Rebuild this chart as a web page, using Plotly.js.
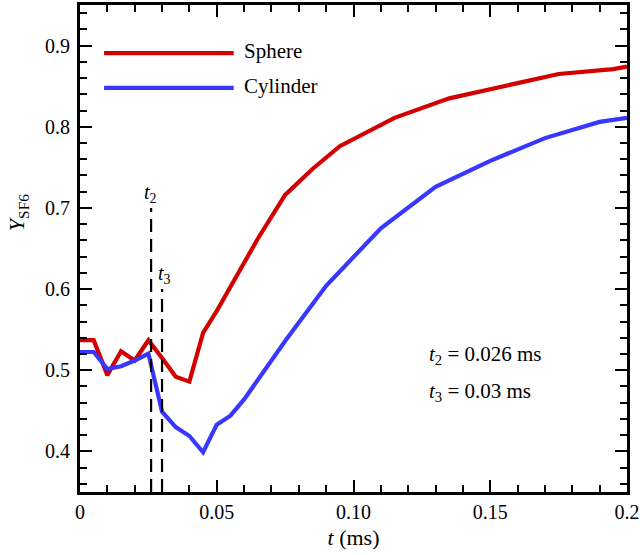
<!DOCTYPE html>
<html>
<head>
<meta charset="utf-8">
<script src="https://cdn.plot.ly/plotly-3.0.1.min.js"></script>
<style>html,body{margin:0;padding:0;background:#fff;}#chart{width:640px;height:555px;}</style>
</head>
<body>
<div id="chart"></div>
<script>
// Sphere series
const sphereT = [0, 0.005, 0.01, 0.015, 0.02, 0.025, 0.03, 0.035, 0.04, 0.045, 0.05, 0.055, 0.065, 0.075, 0.085, 0.095, 0.115, 0.135, 0.155, 0.175, 0.195, 0.2];
const sphereY = [0.537, 0.537, 0.494, 0.5235, 0.512, 0.537, 0.515, 0.492, 0.486, 0.546, 0.573, 0.603, 0.662, 0.716, 0.748, 0.776, 0.811, 0.835, 0.850, 0.865, 0.871, 0.874];
// Cylinder series
const cylT = [0, 0.005, 0.01, 0.015, 0.02, 0.025, 0.03, 0.035, 0.04, 0.045, 0.05, 0.055, 0.06, 0.075, 0.09, 0.11, 0.13, 0.15, 0.17, 0.19, 0.2];
const cylY = [0.5225, 0.5225, 0.5015, 0.505, 0.512, 0.5205, 0.449, 0.43, 0.419, 0.399, 0.433, 0.444, 0.464, 0.536, 0.604, 0.675, 0.726, 0.758, 0.786, 0.806, 0.811];
// Marked times
const t2 = 0.026, t2Top = 0.70;
const t3 = 0.03, t3Top = 0.60;
// Ticks
const xTickVals = [0, 0.05, 0.10, 0.15, 0.2];
const xTickText = ["0", "0.05", "0.10", "0.15", "0.2"];
const yTickVals = [0.4, 0.5, 0.6, 0.7, 0.8, 0.9];
const yTickText = ["0.4", "0.5", "0.6", "0.7", "0.8", "0.9"];
const seriesNames = ["Sphere", "Cylinder"];

const RED = "rgb(210,0,0)";
const BLUE = "rgb(55,55,255)";
const FONT = "Liberation Serif, Times New Roman, serif";

const traces = [
  {x: sphereT, y: sphereY, mode: "lines", name: seriesNames[0], line: {color: RED, width: 4.2}, showlegend: false},
  {x: cylT, y: cylY, mode: "lines", name: seriesNames[1], line: {color: BLUE, width: 4.2}, showlegend: false}
];

const axisCommon = {
  showgrid: false, zeroline: false, showline: true, linecolor: "#000", linewidth: 3,
  mirror: "allticks", ticks: "inside", ticklen: 12, tickwidth: 2, tickcolor: "#000",
  tickfont: {family: FONT, size: 20, color: "#000"},
  minor: {ticks: "inside", ticklen: 7, tickwidth: 2, tickcolor: "#000", showgrid: false}
};

const layout = {
  width: 640, height: 555,
  margin: {l: 80, r: 13, t: 5, b: 63},
  paper_bgcolor: "#fff", plot_bgcolor: "#fff",
  font: {family: FONT, color: "#000"},
  xaxis: Object.assign({}, axisCommon, {
    range: [0, 0.2], tickmode: "array", tickvals: xTickVals, ticktext: xTickText,
    minor: Object.assign({}, axisCommon.minor, {dtick: 0.01, tick0: 0}),
    title: {text: "<i>t</i> (ms)", font: {family: FONT, size: 22, color: "#000"}, standoff: 8}
  }),
  yaxis: Object.assign({}, axisCommon, {
    range: [0.35, 0.95], tickmode: "array", tickvals: yTickVals, ticktext: yTickText,
    ticklabelstandoff: 3,
    minor: Object.assign({}, axisCommon.minor, {dtick: 0.02, tick0: 0.4}),
    title: {text: ""}
  }),
  shapes: [
    {type: "line", xref: "x", yref: "y", x0: t2, x1: t2, y0: 0.35, y1: t2Top, line: {color: "#000", width: 2.2, dash: "13px,7px"}},
    {type: "line", xref: "x", yref: "y", x0: t3, x1: t3, y0: 0.35, y1: t3Top, line: {color: "#000", width: 2.2, dash: "13px,7px"}},
    {type: "line", xref: "paper", yref: "paper", x0: 0.044, x1: 0.281, y0: 0.901, y1: 0.901, line: {color: RED, width: 4.2}},
    {type: "line", xref: "paper", yref: "paper", x0: 0.044, x1: 0.281, y0: 0.830, y1: 0.830, line: {color: BLUE, width: 4.2}}
  ],
  annotations: [
    {xref: "paper", yref: "paper", x: 0.297, y: 0.905, xanchor: "left", yanchor: "middle", showarrow: false,
     text: seriesNames[0], font: {family: FONT, size: 21, color: "#000"}},
    {xref: "paper", yref: "paper", x: 0.297, y: 0.834, xanchor: "left", yanchor: "middle", showarrow: false,
     text: seriesNames[1], font: {family: FONT, size: 21, color: "#000"}},
    {xref: "x", yref: "y", x: t2, y: t2Top, xanchor: "center", yanchor: "bottom", showarrow: false, xshift: -1, yshift: 0,
     text: "<i>t</i><sub>2</sub>", font: {family: FONT, size: 20, color: "#000"}},
    {xref: "x", yref: "y", x: t3, y: t3Top, xanchor: "center", yanchor: "bottom", showarrow: false, xshift: 2, yshift: 0,
     text: "<i>t</i><sub>3</sub>", font: {family: FONT, size: 20, color: "#000"}},
    {xref: "paper", yref: "paper", x: 0.635, y: 0.281, xanchor: "left", yanchor: "middle", showarrow: false,
     text: "<i>t</i><sub>2</sub> = 0.026 ms", font: {family: FONT, size: 21, color: "#000"}},
    {xref: "paper", yref: "paper", x: 0.635, y: 0.205, xanchor: "left", yanchor: "middle", showarrow: false,
     text: "<i>t</i><sub>3</sub> = 0.03 ms", font: {family: FONT, size: 21, color: "#000"}},
    {xref: "paper", yref: "paper", x: -0.113, y: 0.573, xanchor: "center", yanchor: "middle", showarrow: false, textangle: -90,
     text: "<i>Y</i><sub>SF6</sub>", font: {family: FONT, size: 22, color: "#000"}}
  ]
};

Plotly.newPlot("chart", traces, layout, {displayModeBar: false, staticPlot: true});
</script>
</body>
</html>
